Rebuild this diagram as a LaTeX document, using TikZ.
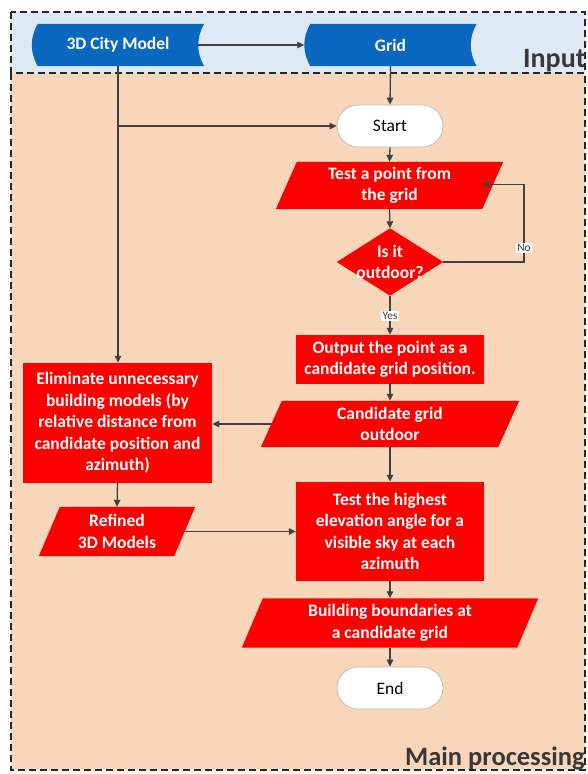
\documentclass[tikz,border=0pt]{standalone}
\usepackage{fontspec}
\setmainfont{Carlito}
\usetikzlibrary{arrows.meta,calc}
\definecolor{bandblue}{HTML}{DDEAF6}
\definecolor{bandorange}{HTML}{F7D6BA}
\definecolor{shapeblue}{HTML}{0A68C0}
\definecolor{shapered}{HTML}{FE0000}
\definecolor{linegray}{HTML}{404040}
\definecolor{titlegray}{HTML}{383838}
\pgfdeclarelayer{bands}
\pgfdeclarelayer{shapes}
\pgfsetlayers{bands,shapes,main}
\newcommand\storedfill[1]{%
  \fill[shapeblue] ([xshift=6pt]#1.north west) -- (#1.north east)
   .. controls ([xshift=-8pt,yshift=-14pt]#1.north east) and ([xshift=-8pt,yshift=14pt]#1.south east) .. (#1.south east)
   -- ([xshift=6pt]#1.south west)
   .. controls ([xshift=-2pt,yshift=14pt]#1.south west) and ([xshift=-2pt,yshift=-14pt]#1.north west) .. ([xshift=6pt]#1.north west) -- cycle;}
\newcommand\parafill[1]{%
  \fill[shapered] ([xshift=10.5pt]#1.north west) -- ([xshift=10.5pt]#1.north east)
   -- ([xshift=-10.5pt]#1.south east) -- ([xshift=-10.5pt]#1.south west) -- cycle;}
\newcommand\rectfill[1]{\fill[shapered] (#1.north west) rectangle (#1.south east);}
\newcommand\diafill[1]{\fill[shapered] (#1.north) -- (#1.east) -- (#1.south) -- (#1.west) -- cycle;}
\begin{document}
\begin{tikzpicture}[x=1pt,y=-1pt,
  boxtext/.style={inner sep=0pt, text=white, align=center,
    font=\bfseries\fontsize{17.5}{21.5}\selectfont},
  storedbox/.style={boxtext, minimum width=172pt, minimum height=42pt},
  terminal/.style={draw=black!25, line width=0.8pt, fill=white, rounded corners=21pt,
    minimum width=106pt, minimum height=42pt, inner sep=0pt,
    font=\fontsize{17.5}{21.5}\selectfont},
  arr/.style={draw=linegray, line width=1.3pt, -{Triangle[length=7pt,width=6.5pt]}},
  plainline/.style={draw=linegray, line width=1.3pt},
  lbl/.style={fill=white, inner sep=1.2pt, text=linegray, font=\fontsize{11.5}{12}\selectfont},
  lane/.style={draw=black!85, line width=1.3pt, dash pattern=on 7pt off 4pt},
  title/.style={text=titlegray, inner sep=0pt, anchor=base west}
]
\useasboundingbox (0,0) rectangle (587,774);
\clip (0,0) rectangle (587,774);

% lanes
\begin{pgfonlayer}{bands}
  \fill[white] (0,0) rectangle (587,774);
  \fill[bandblue] (11,12) rectangle (585,73);
  \fill[bandorange] (11,73) rectangle (585,770);
\end{pgfonlayer}
\draw[lane] (11,12) rectangle (585,73);
\draw[lane] (11,73) rectangle (585,770);

\node[title, font=\bfseries\fontsize{28}{30}\selectfont] (inputlbl) at (523,67) {Input};
\node[title, font=\bfseries\fontsize{26.5}{30}\selectfont] (mainlbl) at (405,765) {Main processing};

% input shapes
\node[storedbox] (city) at (118,45) {3D City Model};
\node[storedbox] (grid) at (390.5,45) {Grid};

% main flow
\node[terminal] (start) at (390,126) {Start};
\node[boxtext, minimum width=206pt, minimum height=47pt] (test) at (389.5,185.5) {Test a point from\\the grid};
\node[boxtext, minimum width=106pt, minimum height=67pt] (dia) at (390,262) {Is it\\outdoor?};
\node[boxtext, minimum width=188pt, minimum height=49pt] (out) at (390,359.5) {Output the point as a\\candidate grid position.};
\node[boxtext, minimum width=237pt, minimum height=46pt] (cand) at (390,424) {Candidate grid\\outdoor};
\node[boxtext, minimum width=188pt, minimum height=99pt] (high) at (390,531.5) {Test the highest\\elevation angle for a\\visible sky at each\\azimuth};
\node[boxtext, minimum width=275pt, minimum height=49pt] (bound) at (390,623) {Building boundaries at\\a candidate grid};
\node[terminal] (end) at (390,688) {End};

\node[boxtext, minimum width=189pt, minimum height=120pt] (elim) at (117.5,423) {Eliminate unnecessary\\building models (by\\relative distance from\\candidate position and\\azimuth)};
\node[boxtext, minimum width=135pt, minimum height=49pt] (refined) at (117,531.5) {Refined\\3D Models};

\begin{pgfonlayer}{shapes}
  \storedfill{city}
  \storedfill{grid}
  \parafill{test}
  \diafill{dia}
  \rectfill{out}
  \parafill{cand}
  \rectfill{high}
  \parafill{bound}
  \rectfill{elim}
  \parafill{refined}
\end{pgfonlayer}

% connectors
\draw[arr] ([xshift=-6pt]city.east) -- (grid.west);
\draw[arr] (grid.south) -- (start.north);
\coordinate (branch) at (city.south |- start.west);
\draw[plainline] (city.south) -- (branch);
\draw[arr] (branch) -- (city.south |- elim.north);
\draw[arr] (branch) -- (start.west);
\draw[arr] (start.south) -- (test.north);
\draw[arr] (test.south) -- (dia.north);
\coordinate (nocorner) at (524,220);
\draw[arr] (dia.east) -| (nocorner) |- ([xshift=-10.5pt,yshift=1pt]test.east);
\node[lbl] (nolbl) at (524,248) {No};
\draw[arr] (dia.south) -- (out.north);
\node[lbl] (yeslbl) at (390,316) {Yes};
\draw[arr] (out.south) -- (cand.north);
\draw[arr] ([xshift=1pt]cand.west) -- (cand.west -| elim.east);
\draw[arr] (cand.south) -- (high.north);
\draw[arr] (elim.south) -- (refined.north);
\draw[arr] ([xshift=-1pt]refined.east) -- (refined.east -| high.west);
\draw[arr] (high.south) -- (bound.north);
\draw[arr] (bound.south) -- (end.north);
\end{tikzpicture}
\end{document}
